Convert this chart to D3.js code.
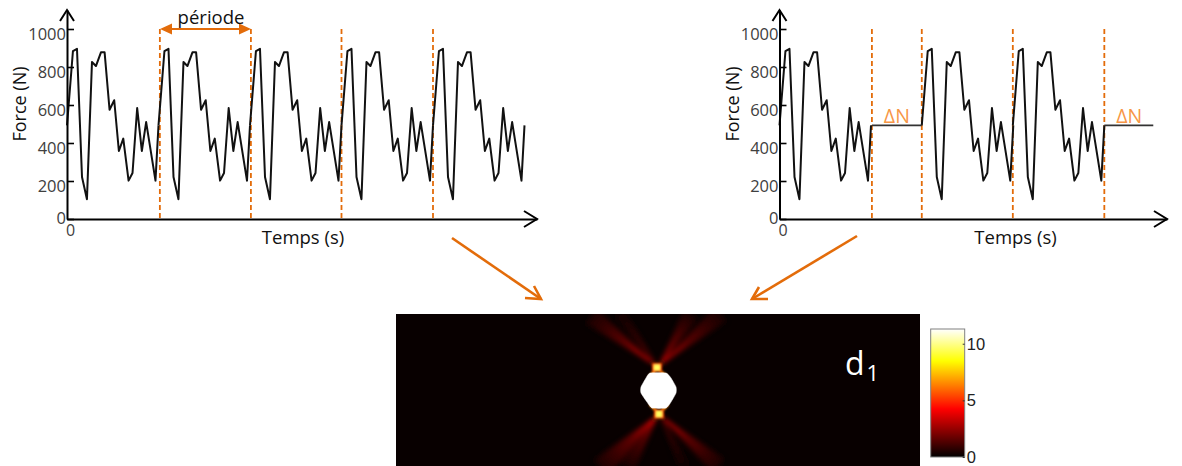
<!DOCTYPE html>
<html><head><meta charset="utf-8">
<script src="https://cdn.jsdelivr.net/npm/d3@7"></script>
<style>html,body{margin:0;padding:0;background:#fff;overflow:hidden}svg{display:block}text{font-family:"Open Sans",sans-serif}</style>
</head><body><svg id="c" width="1182" height="466"></svg>
<script>
// One period of the force signal
const phase = [0,.065,.109,.164,.218,.273,.316,.371,.411,.465,.516,.567,.615,.673,.716,.767,.818,.865,.967];
const force = [493,884,896,221,104,826,805,877,877,575,625,358,423,202,242,584,358,510,202];
const holdForce = 493;
const yTicks = [0,200,400,600,800,1000];
const leftStarts = [0,1,2,3,4];
const leftEnd = 5;
const leftMarks = [1.015,2.01,3.0,4.0];
const rightStarts = [0,1.555,2.55];
const rightHolds = [[1.01,1.555],[3.55,4.085]];
const rightMarks = [1.01,1.555,2.55,3.55];
const cbTicks = [0,5,10];
const cbMax = 11.3;
const hotDomain = [0,.375,.75,1];
const hotColors = ["#000000","#ff0000","#ffff00","#ffffff"];
// heat map features in map coordinates (centre of map = 0,0)
const rayDecay = [[0,1],[.1,.62],[.22,.4],[.45,.24],[.75,.14],[1,.07]];
const rays = [
 {a:[-3,-24],t:[-68,-74],w:9,v:6.5},
 {a:[-2,-24],t:[-40,-78],w:6,v:3.5},
 {a:[0,-24],t:[62,-76],w:9,v:6},
 {a:[0,-24],t:[32,-76],w:8,v:6},
 {a:[-1,25],t:[-58,78],w:11,v:6.5},
 {a:[-1,25],t:[-32,78],w:8,v:5.5},
 {a:[1,25],t:[60,76],w:9,v:6.5},
 {a:[1,25],t:[26,78],w:6,v:3}
];
const hotspots = [{x:-2,y:-22.5,v:9.5},{x:0,y:24,v:9.5}];
const collars = [[[-2,-22],[-10,-12]],[[-2,-22],[8,-13]],[[0,24],[-9,14]],[[0,24],[9,14]]];
const blob = [[-9,-17],[7,-17],[12,-12],[17,-3],[17,3],[12,12],[7,18],[-7,18],[-12,12],[-18,3],[-18,-3],[-13,-12]];

const svg = d3.select("#c");
const orange = "#E36C0A", lightOrange = "#F79646";
const hotScale = d3.scaleLinear().domain(hotDomain.map(d=>d*cbMax)).range(hotColors).clamp(true);
const defs = svg.append("defs");
const pxPerPeriod = 91.5;

function panel(x0, starts, end, holds, marks){
  const axisEnd = end<5 ? 387.5 : 470;
  const x = d3.scaleLinear().domain([0,axisEnd/pxPerPeriod]).range([x0,x0+axisEnd]);
  const y = d3.scaleLinear().domain([0,1100]).range([219,10]);
  const line = d3.line().x(d=>x(d[0])).y(d=>y(d[1]));
  const g = svg.append("g");
  g.selectAll("line.mark").data(marks).join("line").attr("class","mark")
    .attr("x1",d=>x(d)).attr("x2",d=>x(d)).attr("y1",y(1000)).attr("y2",y(0))
    .attr("stroke",orange).attr("stroke-width",1.8).attr("stroke-dasharray","5,3");
  const wave = phase.map((p,i)=>[p,force[i]]);
  starts.forEach(s=>{
    const pts = wave.map(d=>[s+d[0],d[1]]);
    pts.push([s+1,holdForce]);
    g.append("path").attr("d",line(pts)).attr("fill","none")
     .attr("stroke","#111").attr("stroke-width",2).attr("stroke-linejoin","round");
  });
  holds.forEach(h=>{
    g.append("path").attr("d",line([[h[0],holdForce],[h[1],holdForce]])).attr("fill","none")
     .attr("stroke","#333").attr("stroke-width",1.8);
  });
  const ax = g.append("g").attr("transform","translate("+x0+",0)")
    .call(d3.axisLeft(y).tickValues(yTicks).tickFormat(d3.format("d")).tickSizeInner(-7).tickSizeOuter(0).tickPadding(1));
  ax.select(".domain").attr("stroke","#000").attr("stroke-width",2);
  ax.selectAll(".tick line").attr("stroke","#000").attr("stroke-width",1.6);
  ax.selectAll(".tick text").attr("fill","#404040").style("font-size","16.5px").style("font-family",'"Open Sans"')
    .attr("dy",d=>d===0?"0.25em":"0.62em");
  const bx = g.append("g").attr("transform","translate(0,219)")
    .call(d3.axisBottom(x).tickValues([0]).tickFormat(d3.format("d")).tickSize(0).tickPadding(6));
  bx.select(".domain").attr("stroke","#000").attr("stroke-width",2);
  bx.selectAll(".tick text").attr("fill","#404040").style("font-size","16px").style("font-family",'"Open Sans"').attr("dx","3");
  const barb = (pts)=>g.append("path").attr("d",d3.line()(pts)).attr("fill","none")
     .attr("stroke","#000").attr("stroke-width",2).attr("stroke-linejoin","miter");
  barb([[x0-7,21],[x0,10],[x0+7,21]]);
  const xe = x0+axisEnd;
  barb([[xe-13,211],[xe,219],[xe-13,227]]);
  g.append("text").attr("transform","translate("+(x0-47)+",104) rotate(-90)").attr("text-anchor","middle")
    .attr("dy","0.35em").attr("fill","#111").style("font-size","18px").text("Force (N)");
  g.append("text").attr("x",x0+236).attr("y",244).attr("text-anchor","middle")
    .attr("fill","#111").style("font-size","18.5px").text("Temps (s)");
  return {x,y,g};
}

const L = panel(67, leftStarts, leftEnd, [], leftMarks);
const R = panel(779.5, rightStarts, 4.085, rightHolds, rightMarks);

svg.append("line").attr("x1",168).attr("x2",243).attr("y1",29).attr("y2",29).attr("stroke",orange).attr("stroke-width",2);
svg.append("path").attr("d","M160,29L172,23.5L172,34.5Z M251,29L239,23.5L239,34.5Z").attr("fill",orange);
svg.append("text").attr("x",211).attr("y",24).attr("text-anchor","middle").attr("fill","#111").style("font-size","18.5px").text("période");
rightHolds.forEach(h=>{
  svg.append("text").attr("x",R.x(h[0]+0.2725)).attr("y",122.5).attr("text-anchor","middle")
    .attr("fill",lightOrange).style("font-size","19.5px").text("ΔN");
});
[[[452,238],[541,299],[[525,298],[534,286]]],[[857,236],[752,299],[[768,299],[759,287]]]].forEach(a=>{
  svg.append("path").attr("d",d3.line()([a[0],a[1]])).attr("stroke",orange).attr("stroke-width",2.6).attr("fill","none");
  svg.append("path").attr("d",d3.line()([a[2][0],a[1],a[2][1]])).attr("stroke",orange).attr("stroke-width",2.6).attr("fill","none");
});

// heat map
const mapX = d3.scaleLinear().domain([-263,261]).range([396,920]);
const mapY = d3.scaleLinear().domain([-76,76]).range([314,466]);
defs.append("clipPath").attr("id","mapclip").append("rect").attr("x",396).attr("y",314).attr("width",524).attr("height",152);
const blur = defs.append("filter").attr("id","bl").attr("x","-30%").attr("y","-30%").attr("width","160%").attr("height","160%");
blur.append("feGaussianBlur").attr("stdDeviation",2.6);
const blur2 = defs.append("filter").attr("id","bl2").attr("x","-60%").attr("y","-60%").attr("width","220%").attr("height","220%");
blur2.append("feGaussianBlur").attr("stdDeviation",1.1);
const hm = svg.append("g").attr("clip-path","url(#mapclip)");
hm.append("rect").attr("x",396).attr("y",313.5).attr("width",524).attr("height",153).attr("fill","#080000");
const ray = hm.append("g").attr("filter","url(#bl)").style("isolation","isolate");
rays.forEach((r,i)=>{
  const ax=mapX(r.a[0]), ay=mapY(r.a[1]), tx=mapX(r.t[0]), ty=mapY(r.t[1]);
  const dx=tx-ax, dy=ty-ay, n=Math.hypot(dx,dy);
  const grad=defs.append("linearGradient").attr("id","ray"+i).attr("gradientUnits","userSpaceOnUse")
    .attr("x1",ax).attr("y1",ay).attr("x2",tx).attr("y2",ty);
  rayDecay.forEach(s=>grad.append("stop").attr("offset",s[0]).attr("stop-color",hotScale(r.v*s[1])));
  const ox=-dy/n*r.w, oy=dx/n*r.w;
  ray.append("path").attr("d",d3.line()([[ax,ay],[tx+ox,ty+oy],[tx-ox,ty-oy]])+"Z")
    .attr("fill","url(#ray"+i+")").style("mix-blend-mode","screen");
});
const hg = hm.append("g").attr("filter","url(#bl2)");
collars.forEach(c=>{
  hg.append("path").attr("d",d3.line()(c.map(p=>[mapX(p[0]),mapY(p[1])]))).attr("stroke",hotScale(6.5)).attr("stroke-width",3).attr("fill","none");
});
hotspots.forEach(h=>{
  hg.append("rect").attr("x",mapX(h.x)-5).attr("y",mapY(h.y)-4.5).attr("width",10).attr("height",9).attr("fill",hotScale(5.5));
});
hotspots.forEach(h=>{
  hg.append("rect").attr("x",mapX(h.x)-3).attr("y",mapY(h.y)-3).attr("width",6).attr("height",6).attr("fill",hotScale(h.v));
});
hm.append("path").attr("d",d3.line().curve(d3.curveCardinalClosed.tension(.5))(blob.map(p=>[mapX(p[0]),mapY(p[1])]))).attr("fill","#fff").attr("stroke","#fff").attr("stroke-width",.5);

const d1 = svg.append("text").attr("x",845).attr("y",375).attr("fill","#fff").style("font-size","32px");
d1.append("tspan").text("d");
d1.append("tspan").attr("dx",2).attr("dy",6).style("font-size","22px").text("1");

const cbY = d3.scaleLinear().domain([0,cbMax]).range([457,329]);
const cbGrad = defs.append("linearGradient").attr("id","cb").attr("x1",0).attr("y1",1).attr("x2",0).attr("y2",0);
hotDomain.forEach((d,i)=>cbGrad.append("stop").attr("offset",d).attr("stop-color",hotColors[i]));
svg.append("rect").attr("x",930.7).attr("y",329).attr("width",34).attr("height",128).attr("fill","url(#cb)").attr("stroke","#808080").attr("stroke-width",1);
const cax = svg.append("g").attr("transform","translate(964.7,0)")
  .call(d3.axisRight(cbY).tickValues(cbTicks).tickSizeInner(-2).tickSizeOuter(0).tickPadding(2));
cax.select(".domain").attr("stroke","none");
cax.selectAll(".tick line").attr("stroke","#333");
cax.selectAll(".tick text").attr("fill","#222").style("font-size","16.5px").style("font-family",'"Liberation Sans"');
</script></body></html>
